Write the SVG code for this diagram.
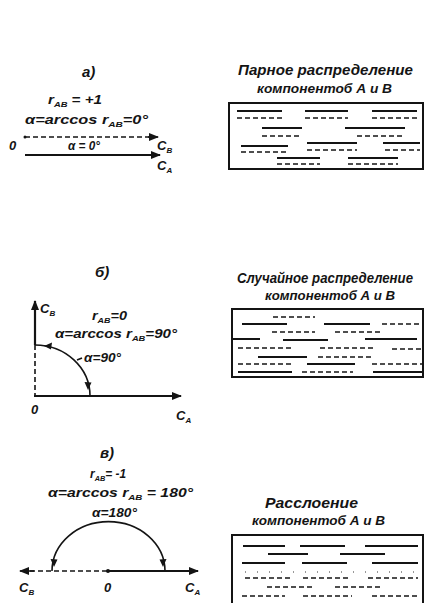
<svg xmlns="http://www.w3.org/2000/svg" width="424" height="603" viewBox="0 0 424 603">
<style>
.t{font-family:"Liberation Sans","DejaVu Sans",sans-serif;font-style:italic;font-weight:bold;fill:#141414}
.s{font-size:8px}
.th{stroke:#141414;stroke-width:2.2;fill:none}
.ln{stroke:#141414;stroke-width:1.6;fill:none}
.ds{stroke:#141414;stroke-width:1.6;stroke-dasharray:5 3;fill:none}
.bx{stroke:#141414;stroke-width:2;fill:none}
.dt{stroke:#333;stroke-width:1;stroke-dasharray:1 11;fill:none}
.ah{fill:#141414}
</style>
<defs>
<marker id="arr" viewBox="0 0 10 8" refX="9" refY="4" markerWidth="10" markerHeight="8" markerUnits="userSpaceOnUse" orient="auto">
<path d="M0,0 L10,4 L0,8 z" class="ah"/>
</marker>
</defs>

<g id="panel-a">
<text class="t" x="82" y="77" font-size="15">а)</text>
<text class="t" x="48" y="104" font-size="13" textLength="54" lengthAdjust="spacingAndGlyphs">r<tspan class="s" dy="3">AB</tspan><tspan dy="-3"> = +1</tspan></text>
<text class="t" x="25" y="124" font-size="13" textLength="123" lengthAdjust="spacingAndGlyphs">α=arccos r<tspan class="s" dy="3">AB</tspan><tspan dy="-3">=0°</tspan></text>
<text class="t" x="9" y="150" font-size="13">0</text>
<text class="t" x="68" y="150" font-size="12" textLength="32" lengthAdjust="spacingAndGlyphs">α = 0°</text>
<text class="t" x="157" y="150" font-size="13">C<tspan class="s" dy="3">B</tspan></text>
<text class="t" x="157" y="170" font-size="13">C<tspan class="s" dy="3">A</tspan></text>
</g>

<g id="panel-b">
<text class="t" x="95" y="277" font-size="15">б)</text>
<text class="t" x="40" y="313" font-size="13">C<tspan class="s" dy="3">B</tspan></text>
<text class="t" x="92" y="320" font-size="13" textLength="35" lengthAdjust="spacingAndGlyphs">r<tspan class="s" dy="3">AB</tspan><tspan dy="-3">=0</tspan></text>
<text class="t" x="55" y="338" font-size="13" textLength="122" lengthAdjust="spacingAndGlyphs">α=arccos r<tspan class="s" dy="3">AB</tspan><tspan dy="-3">=90°</tspan></text>
<text class="t" x="84" y="362" font-size="13" textLength="37" lengthAdjust="spacingAndGlyphs">α=90°</text>
<text class="t" x="31" y="414" font-size="13">0</text>
<text class="t" x="176" y="420" font-size="13">C<tspan class="s" dy="3">A</tspan></text>
</g>

<g id="panel-c">
<text class="t" x="100" y="458" font-size="15">в)</text>
<text class="t" x="90" y="478" font-size="13" textLength="36" lengthAdjust="spacingAndGlyphs">r<tspan class="s" dy="3">AB</tspan><tspan dy="-3">= -1</tspan></text>
<text class="t" x="48" y="497" font-size="13" textLength="145" lengthAdjust="spacingAndGlyphs">α=arccos   r<tspan class="s" dy="3">AB</tspan><tspan dy="-3"> = 180°</tspan></text>
<text class="t" x="92" y="517" font-size="13" textLength="45" lengthAdjust="spacingAndGlyphs">α=180°</text>
<text class="t" x="19" y="592" font-size="13">C<tspan class="s" dy="3">B</tspan></text>
<text class="t" x="104" y="592" font-size="13">0</text>
<text class="t" x="185" y="592" font-size="13">C<tspan class="s" dy="3">A</tspan></text>
</g>

<g id="connectors">
<line class="ds" x1="25" y1="137" x2="150" y2="137"/>
<line class="ln" x1="148" y1="137" x2="158" y2="137" marker-end="url(#arr)"/>
<line class="th" x1="25" y1="155" x2="160" y2="155" marker-end="url(#arr)"/>
<circle cx="25" cy="137" r="1.5" class="ah"/>
<line class="th" x1="35" y1="345" x2="35" y2="301" marker-end="url(#arr)"/>
<line class="ds" x1="35" y1="345" x2="35" y2="396"/>
<line class="th" x1="34" y1="396" x2="181" y2="396" marker-end="url(#arr)"/>
<path class="ln" d="M35,345 A55,51 0 0 1 90,396"/>
<path class="ah" d="M44,346 L52,342.5 L51,349.5 z"/>
<path class="ah" d="M88,390 L84.5,382 L91.5,382.5 z"/>
<line class="ln" x1="77" y1="360" x2="82" y2="358"/>
<line class="ds" x1="30" y1="571" x2="108" y2="571"/>
<line class="ln" x1="34" y1="571" x2="20" y2="571" marker-end="url(#arr)"/>
<line class="th" x1="108" y1="571" x2="198" y2="571" marker-end="url(#arr)"/>
<circle cx="108" cy="571" r="2" class="ah"/>
<path class="ln" d="M52,571 A56,49 0 0 1 165,571"/>
<path class="ah" d="M54,567 L50.5,559 L57.5,559.5 z"/>
<path class="ah" d="M163,567 L159.5,559.5 L166.5,559 z"/>
</g>

<g id="box-a">
<text class="t" x="238" y="75" font-size="14" textLength="175" lengthAdjust="spacingAndGlyphs">Парное распределение</text>
<text class="t" x="257" y="93" font-size="13" textLength="135" lengthAdjust="spacingAndGlyphs">компонентоб А и В</text>
<rect class="bx" x="229" y="103" width="194" height="66"/>
<path class="th" d="M237,111H282M305,111H348M372,111H417M262,128H302M345,128H405M241,146H288M307,143H357M383,143H420M277,158H320M348,158H398"/>
<path class="ds" d="M237,118H282M305,118H348M372,118H417M262,136H302M357,136H405M241,152H288M307,150H357M385,150H420M277,164H320M348,164H398"/>
</g>

<g id="box-b">
<text class="t" x="237" y="283" font-size="14" textLength="176" lengthAdjust="spacingAndGlyphs">Случайное распределение</text>
<text class="t" x="265" y="300" font-size="13" textLength="130" lengthAdjust="spacingAndGlyphs">компонентоб А и В</text>
<rect class="bx" x="232" y="309" width="191" height="68"/>
<path class="th" d="M242,324H287M324,324H370M232,339H260M283,340H328M365,339H417M258,357H307M307,364H355M238,372H292M373,372H422"/>
<path class="ds" d="M273,317H315M382,324H422M272,332H315M335,332H382M238,348H292M320,348H373M392,349H422M318,357H372M238,364H292M372,364H422M302,372H353"/>
</g>

<g id="box-c">
<text class="t" x="265" y="508" font-size="14" textLength="93" lengthAdjust="spacingAndGlyphs">Расслоение</text>
<text class="t" x="252" y="525" font-size="13" textLength="133" lengthAdjust="spacingAndGlyphs">компонентоб А и В</text>
<rect class="bx" x="232" y="535" width="191" height="80"/>
<path class="th" d="M243,546H285M300,546H345M365,546H418M268,554H308M340,554H385M242,563H285M302,563H347M372,563H418"/>
<path class="dt" d="M245,572H420"/>
<path class="ds" d="M245,578H292M303,578H350M368,578H418M267,587H312M335,587H380M242,596H285M303,596H352M372,596H418"/>
</g>
</svg>
